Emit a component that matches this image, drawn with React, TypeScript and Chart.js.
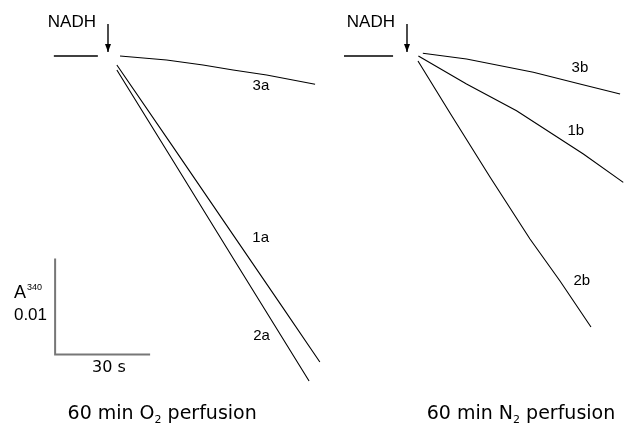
import { useEffect, useRef } from 'react';
import { Chart, registerables } from 'chart.js';

Chart.register(...registerables);

// Time in s relative to NADH addition; values are change in A340 (absorbance units)

// Panel a: 60 min O2 perfusion
const baseA_t = [-17.1, -10.5, -3.2];
const baseA_v = [0, 0, 0];
const t3a = [3.8, 18.5, 30.0, 39.5, 50.1, 65.4];
const v3a = [0, -0.00042, -0.00094, -0.00146, -0.00198, -0.00295];
const t1a = [2.8, 20.0, 40.0, 55.0, 66.9];
const v1a = [-0.00094, -0.00921, -0.01887, -0.02611, -0.03188];
const t2a = [2.8, 20.0, 40.0, 55.0, 63.5];
const v2a = [-0.00146, -0.01063, -0.02132, -0.02933, -0.03385];

// Panel b: 60 min N2 perfusion
const baseB_t = [-19.9, -12.0, -4.4];
const baseB_v = [0, 0, 0];
const t3b = [5.0, 18.8, 39.9, 54.6, 67.3];
const v3b = [0.00028, -0.00031, -0.0017, -0.00292, -0.00396];
const t1b = [3.6, 18.8, 34.6, 55.7, 68.3];
const v1b = [0, -0.00292, -0.0057, -0.01021, -0.01316];
const t2b = [3.47, 13.58, 26.21, 38.84, 48.32, 58.1];
const v2b = [-0.00052, -0.00594, -0.0126, -0.01906, -0.02344, -0.02823];

// Scale bar: 30 s horizontal, 0.01 A340 vertical (drawn in panel a)
const barT = [-16.7, -16.7, 13.3];
const barV = [-0.0211, -0.0311, -0.0311];

// Trace labels
const traceLabels = ['3a', '1a', '2a', '3b', '1b', '2b'];
const traceLabelAxis = ['xa', 'xa', 'xa', 'xb', 'xb', 'xb'];
const traceLabelT = [48.3, 48.2, 48.5, 54.6, 53.3, 55.2];
const traceLabelV = [-0.00307, -0.0189, -0.02917, -0.0012, -0.00779, -0.02342];

// NADH addition markers
const nadhLabel = 'NADH';
const nadhAxes = ['xa', 'xb'];
const nadhLabelT = -11.4;
const nadhLabelV = 0.00349;
const arrowTopV = 0.00333;
const arrowBottomV = 0.00042;

// Scale bar labels
const scaleUnitMain = 'A';
const scaleUnitSup = '340';
const scaleValue = '0.01';
const scaleTime = '30 s';
const scaleUnitT = -29.7;
const scaleUnitV = -0.02469;
const scaleValueT = -19.26;
const scaleValueV = -0.02703;
const scaleTimeT = 0.3;
const scaleTimeV = -0.03245;

// Panel captions
const captionPre = '60 min ';
const captionGas = ['O', 'N'];
const captionSub = '2';
const captionPost = ' perfusion';
const captionAxes = ['xa', 'xb'];
const captionT = [17.1, 36.0];
const captionV = -0.03729;

const toPts = (t: number[], v: number[]) => t.map((x, i) => ({ x, y: v[i] }));

const labelPlugin = {
  id: 'figureLabels',
  afterDatasetsDraw(chart: any) {
    const ctx = chart.ctx as CanvasRenderingContext2D;
    const y = chart.scales.y;
    ctx.save();
    ctx.fillStyle = '#000';
    ctx.strokeStyle = '#000';
    ctx.textBaseline = 'middle';

    // NADH labels + arrows
    nadhAxes.forEach((ax) => {
      const sx = chart.scales[ax];
      ctx.font = '17px "Liberation Sans", Arial, sans-serif';
      ctx.textAlign = 'center';
      ctx.fillText(nadhLabel, sx.getPixelForValue(nadhLabelT), y.getPixelForValue(nadhLabelV));
      const ax0 = sx.getPixelForValue(0);
      const yTop = y.getPixelForValue(arrowTopV);
      const yBot = y.getPixelForValue(arrowBottomV);
      ctx.lineWidth = 1.4;
      ctx.beginPath();
      ctx.moveTo(ax0, yTop);
      ctx.lineTo(ax0, yBot);
      ctx.stroke();
      ctx.beginPath();
      ctx.moveTo(ax0 - 3, yBot - 8);
      ctx.lineTo(ax0, yBot);
      ctx.lineTo(ax0 + 3, yBot - 8);
      ctx.closePath();
      ctx.fill();
    });

    // Trace labels
    ctx.font = '15px "Liberation Sans", Arial, sans-serif';
    ctx.textAlign = 'center';
    traceLabels.forEach((txt, i) => {
      const sx = chart.scales[traceLabelAxis[i]];
      ctx.fillText(txt, sx.getPixelForValue(traceLabelT[i]), y.getPixelForValue(traceLabelV[i]));
    });

    // Scale bar labels
    const xa = chart.scales.xa;
    ctx.textAlign = 'left';
    ctx.font = '18px "Liberation Sans", Arial, sans-serif';
    const lx = xa.getPixelForValue(scaleUnitT);
    const uy = y.getPixelForValue(scaleUnitV);
    ctx.fillText(scaleUnitMain, lx, uy);
    const aw = ctx.measureText(scaleUnitMain).width;
    ctx.font = '9px "Liberation Sans", Arial, sans-serif';
    ctx.fillText(scaleUnitSup, lx + aw + 1, uy - 6);
    ctx.font = '17px "Liberation Sans", Arial, sans-serif';
    ctx.textAlign = 'right';
    ctx.fillText(scaleValue, xa.getPixelForValue(scaleValueT), y.getPixelForValue(scaleValueV));
    ctx.textAlign = 'center';
    ctx.font = '16px "DejaVu Sans", sans-serif';
    ctx.fillText(scaleTime, xa.getPixelForValue(scaleTimeT), y.getPixelForValue(scaleTimeV));

    // Captions with subscript
    captionAxes.forEach((ax, i) => {
      const sx = chart.scales[ax];
      const big = '19px "DejaVu Sans", sans-serif';
      const small = '11px "DejaVu Sans", sans-serif';
      const part1 = captionPre + captionGas[i];
      ctx.font = big;
      const w1 = ctx.measureText(part1).width;
      const w3 = ctx.measureText(captionPost).width;
      ctx.font = small;
      const w2 = ctx.measureText(captionSub).width;
      const total = w1 + w2 + w3;
      let cx = sx.getPixelForValue(captionT[i]) - total / 2;
      const cy = y.getPixelForValue(captionV);
      ctx.textAlign = 'left';
      ctx.font = big;
      ctx.fillText(part1, cx, cy);
      cx += w1;
      ctx.font = small;
      ctx.fillText(captionSub, cx, cy + 6);
      cx += w2;
      ctx.font = big;
      ctx.fillText(captionPost, cx, cy);
    });
    ctx.restore();
  },
};

export default function App() {
  const ref = useRef<HTMLCanvasElement | null>(null);
  useEffect(() => {
    if (!ref.current) return;
    const trace = (label: string, axis: string, t: number[], v: number[], color = '#000', width = 1.1) => ({
      label,
      xAxisID: axis,
      yAxisID: 'y',
      data: toPts(t, v),
      showLine: true,
      borderColor: color,
      backgroundColor: color,
      borderWidth: width,
      pointRadius: 0,
      tension: 0,
      fill: false,
    });
    const chart = new Chart(ref.current, {
      type: 'scatter',
      data: {
        datasets: [
          trace('baseline a', 'xa', baseA_t, baseA_v, '#000', 1.4),
          trace('3a', 'xa', t3a, v3a),
          trace('1a', 'xa', t1a, v1a),
          trace('2a', 'xa', t2a, v2a),
          trace('baseline b', 'xb', baseB_t, baseB_v, '#000', 1.4),
          trace('3b', 'xb', t3b, v3b),
          trace('1b', 'xb', t1b, v1b),
          trace('2b', 'xb', t2b, v2b),
          trace('scale bar', 'xa', barT, barV, '#777', 2),
        ] as any,
      },
      options: {
        animation: false,
        responsive: false,
        maintainAspectRatio: false,
        layout: { padding: 0 },
        plugins: { legend: { display: false }, tooltip: { enabled: false }, title: { display: false } },
        scales: {
          xa: { type: 'linear', axis: 'x', display: false, min: -34.105, max: 162.95 },
          xb: { type: 'linear', axis: 'x', display: false, min: -128.53, max: 68.53 },
          y: { type: 'linear', display: false, min: -0.038646, max: 0.0058333 },
        } as any,
      },
      plugins: [labelPlugin],
    });
    return () => chart.destroy();
  }, []);
  return (
    <div style={{ position: 'fixed', left: 0, top: 0, width: 624, height: 427, background: '#fff' }}>
      <canvas ref={ref} width={624} height={427} style={{ display: 'block', width: 624, height: 427 }} />
    </div>
  );
}
